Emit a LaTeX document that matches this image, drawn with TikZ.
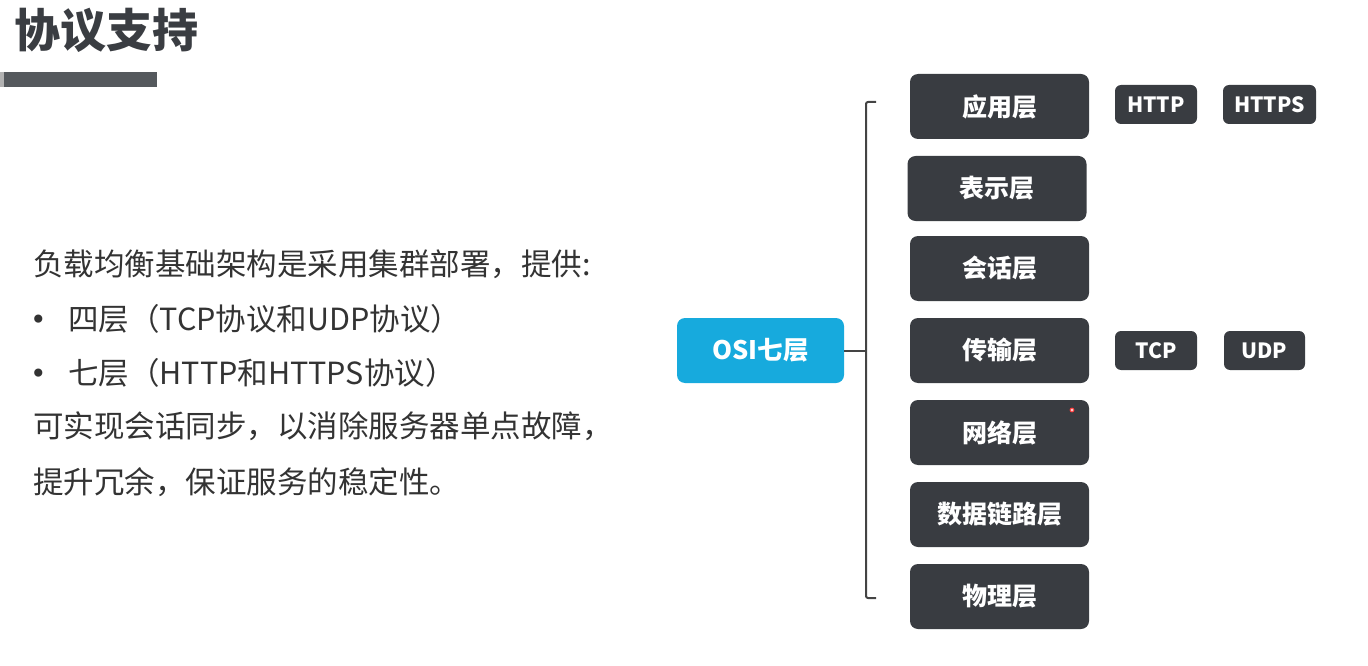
\documentclass[tikz,border=0pt]{standalone}
\usepackage{fontspec}
\setmainfont{Noto Sans CJK SC}
\newfontfamily\bulletfont{DejaVu Sans}
\definecolor{boxc}{HTML}{393C41}
\definecolor{osic}{HTML}{17AADD}
\definecolor{bodyc}{HTML}{333333}
\definecolor{titlec}{HTML}{3A3D42}
\definecolor{barc}{HTML}{55595D}
\definecolor{linec}{HTML}{444444}
\begin{document}
\begin{tikzpicture}[x=1pt,y=-1pt,
  layer/.style={fill=boxc, rounded corners=8pt, minimum width=179pt, minimum height=65pt, text=white, font=\fontsize{25}{25}\selectfont\bfseries, inner sep=0pt},
  proto/.style={fill=boxc, rounded corners=6pt, minimum height=39pt, text=white, font=\fontsize{21}{21}\selectfont\bfseries, inner sep=0pt},
  body/.style={anchor=base west, inner sep=0pt, text=bodyc, font=\fontsize{30.5}{30.5}\selectfont},
  bracketline/.style={draw=linec, line width=2pt}]
\useasboundingbox (0,0) rectangle (1368,666);
% title
\node[anchor=base west, inner sep=0pt, text=titlec, font=\fontsize{46}{46}\selectfont\bfseries] (title) at (14,48) {协议支持};
\fill[barc] (0,72) rectangle (157,87);
\fill[black!30] (0,72) rectangle (4,87);
% body text
\node[body] (l1) at (33,275) {负载均衡基础架构是采用集群部署，提供:};
\node[body, font=\bulletfont\fontsize{28}{28}\selectfont] (b2) at (30,329) {•};
\node[body] (l2) at (68,330) {四层（TCP协议和UDP协议）};
\node[body, font=\bulletfont\fontsize{28}{28}\selectfont] (b3) at (30,383) {•};
\node[body] (l3) at (68,384) {七层（HTTP和HTTPS协议）};
\node[body] (l4) at (33,437) {可实现会话同步，以消除服务器单点故障，};
\node[body] (l5) at (33,493) {提升冗余，保证服务的稳定性。};
% OSI
\node[layer, fill=osic, minimum width=167pt, font=\fontsize{25.5}{25.5}\selectfont\bfseries] (osi) at (760.5,350.5) {OSI七层};
% layers
\node[layer] (app) at (999.5,106.5) {应用层};
\node[layer] (pres) at (997,188.5) {表示层};
\node[layer] (sess) at (999.5,268.5) {会话层};
\node[layer] (trans) at (999.5,350.5) {传输层};
\node[layer] (net) at (999.5,432.5) {网络层};
\node[layer] (link) at (999.5,514.5) {数据链路层};
\node[layer] (phys) at (999.5,596.5) {物理层};
% protocols
\node[proto, minimum width=82pt] (http) at (1156,104.5) {HTTP};
\node[proto, minimum width=93pt] (https) at (1269.5,104.5) {HTTPS};
\node[proto, minimum width=82pt] (tcp) at (1156,350.5) {TCP};
\node[proto, minimum width=81pt] (udp) at (1264.5,350.5) {UDP};
% bracket
\coordinate (tt) at (876,102);
\coordinate (tl) at (866,102);
\coordinate (bl) at (866,598);
\coordinate (bt) at (876,598);
\coordinate (mid) at (866,350.5);
\draw[bracketline, rounded corners=2pt] (tt) -- (tl) -- (bl) -- (bt);
\draw[bracketline] (osi.east) -- (mid);
% small red mark
\node[circle, draw=red!80, fill=red!20, inner sep=0pt, minimum size=4pt, line width=0.8pt] (dot) at (1072,410) {};
\end{tikzpicture}
\end{document}
